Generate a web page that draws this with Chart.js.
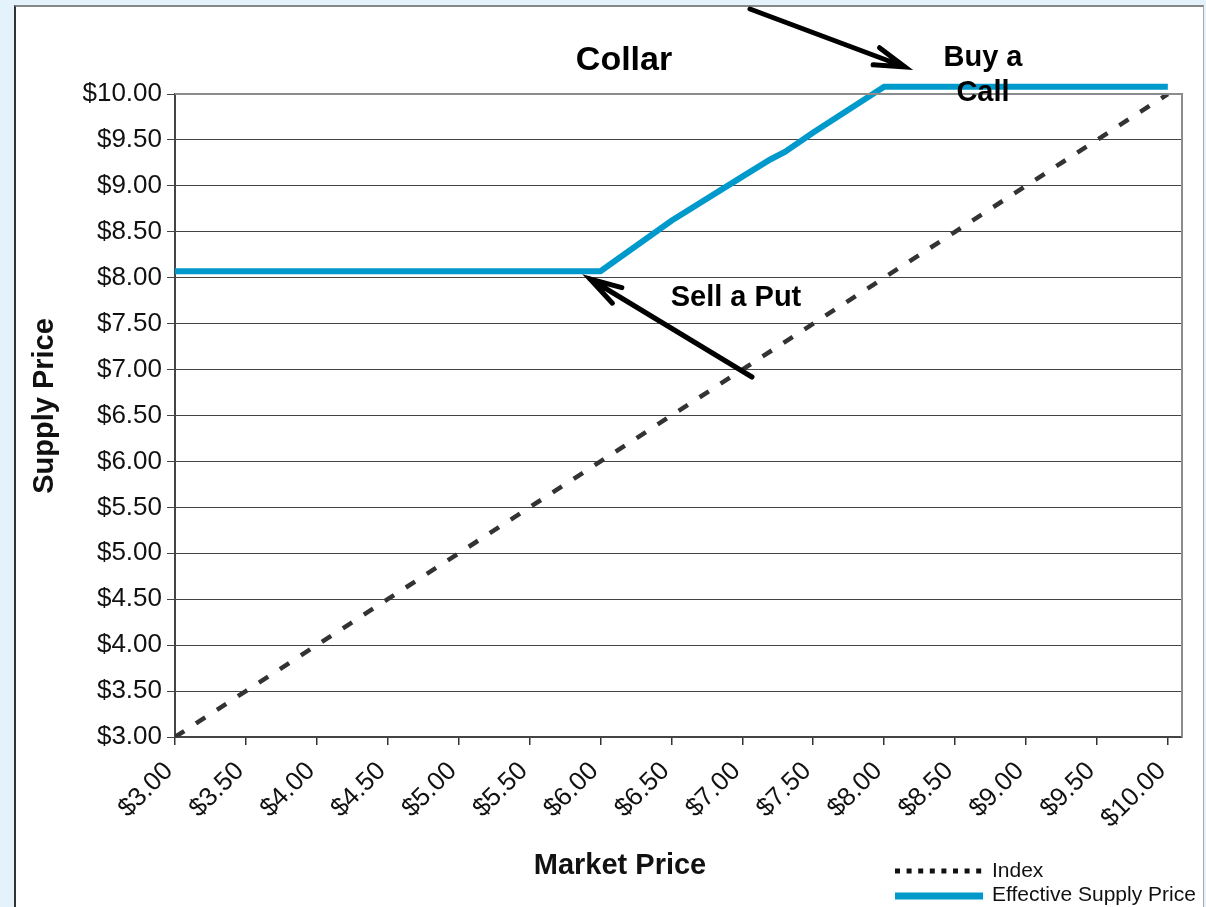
<!DOCTYPE html>
<html>
<head>
<meta charset="utf-8">
<title>Collar</title>
<script src="https://cdn.jsdelivr.net/npm/chart.js@4.4.1/dist/chart.umd.min.js"></script>
<style>
    html, body { margin: 0; padding: 0; }
    body { background: #e4f2fb; width: 1206px; height: 907px; overflow: hidden; position: relative; }
    #panel {
        position: absolute; left: 14px; top: 5px; width: 1187px; height: 902px;
        background: #fff; border-left: 2px solid #333; border-top: 2px solid #888; border-right: 1px solid #aaa;
    }
    #collarChart { position: absolute; left: 0; top: 0; }
</style>
</head>
<body>
<div id="panel"></div>
<canvas id="collarChart" width="1206" height="907"></canvas>
<script>
// market price categories along the bottom axis
const marketPrices = [3.00, 3.50, 4.00, 4.50, 5.00, 5.50, 6.00, 6.50, 7.00, 7.50, 8.00, 8.50, 9.00, 9.50, 10.00];
const marketLabels = ['$3.00', '$3.50', '$4.00', '$4.50', '$5.00', '$5.50', '$6.00', '$6.50', '$7.00', '$7.50', '$8.00', '$8.50', '$9.00', '$9.50', '$10.00'];

// supply price ticks on the left axis
const supplyTicks = [3.00, 3.50, 4.00, 4.50, 5.00, 5.50, 6.00, 6.50, 7.00, 7.50, 8.00, 8.50, 9.00, 9.50, 10.00];
const supplyLabels = ['$3.00', '$3.50', '$4.00', '$4.50', '$5.00', '$5.50', '$6.00', '$6.50', '$7.00', '$7.50', '$8.00', '$8.50', '$9.00', '$9.50', '$10.00'];

// index follows the market one to one
const indexPrice = [3.00, 3.50, 4.00, 4.50, 5.00, 5.50, 6.00, 6.50, 7.00, 7.50, 8.00, 8.50, 9.00, 9.50, 10.00];

// effective supply price: floor from the put, cap from the call
const effectiveMarket = [3.00, 6.00, 6.50, 7.00, 7.20, 7.30, 7.50, 8.00, 10.00];
const effectivePrice = [8.07, 8.07, 8.62, 9.10, 9.29, 9.37, 9.58, 10.08, 10.08];

const FONT = "'Liberation Sans', Arial, sans-serif";
const BLUE = '#0099cc';

function toPoints(xs, ys) {
    return xs.map((x, i) => ({ x: x, y: ys[i] }));
}

function drawArrow(ctx, tail, tip, len, spread) {
    const ang = Math.atan2(tail[1] - tip[1], tail[0] - tip[0]);
    ctx.beginPath();
    ctx.moveTo(tail[0], tail[1]);
    ctx.lineTo(tip[0], tip[1]);
    ctx.moveTo(tip[0] + len * Math.cos(ang - spread), tip[1] + len * Math.sin(ang - spread));
    ctx.lineTo(tip[0], tip[1]);
    ctx.lineTo(tip[0] + len * Math.cos(ang + spread), tip[1] + len * Math.sin(ang + spread));
    ctx.stroke();
}

// plot frame, titles, notes, arrows and the legend box
const collarDecor = {
    id: 'collarDecor',
    afterDatasetsDraw(chart) {
        const { ctx, chartArea: a } = chart;
        ctx.save();
        ctx.strokeStyle = '#8c8c8c';
        ctx.lineWidth = 2;
        ctx.beginPath();
        ctx.moveTo(a.left, a.top);
        ctx.lineTo(a.right, a.top);
        ctx.lineTo(a.right, a.bottom);
        ctx.stroke();

        ctx.fillStyle = '#000';
        ctx.textAlign = 'center';
        ctx.textBaseline = 'middle';
        ctx.font = 'bold 34px ' + FONT;
        ctx.fillText('Collar', 624, 61);
        ctx.font = 'bold 29px ' + FONT;
        ctx.fillText('Buy a', 983, 58);
        ctx.fillText('Call', 983, 93);
        ctx.fillText('Sell a Put', 736, 298);

        // axis titles
        ctx.fillStyle = '#111';
        ctx.fillText('Market Price', 620, 866);
        ctx.save();
        ctx.translate(45, 406);
        ctx.rotate(-Math.PI / 2);
        ctx.fillText('Supply Price', 0, 0);
        ctx.restore();

        ctx.strokeStyle = '#000';
        ctx.lineWidth = 5;
        ctx.lineCap = 'round';
        ctx.lineJoin = 'miter';
        drawArrow(ctx, [750, 9], [905, 67], 32, 0.29);
        drawArrow(ctx, [752, 377], [590, 279], 33, 0.28);

        // legend
        ctx.lineCap = 'butt';
        ctx.strokeStyle = '#111';
        ctx.lineWidth = 5;
        ctx.setLineDash([5, 6.6]);
        ctx.beginPath();
        ctx.moveTo(895, 871);
        ctx.lineTo(984, 871);
        ctx.stroke();
        ctx.setLineDash([]);
        ctx.strokeStyle = BLUE;
        ctx.lineWidth = 7;
        ctx.beginPath();
        ctx.moveTo(895, 896);
        ctx.lineTo(983, 896);
        ctx.stroke();
        ctx.fillStyle = '#111';
        ctx.textAlign = 'left';
        ctx.font = '21px ' + FONT;
        ctx.fillText('Index', 992, 871);
        ctx.fillText('Effective Supply Price', 992, 895);
        ctx.restore();
    }
};

const ctx = document.getElementById('collarChart').getContext('2d');

new Chart(ctx, {
    type: 'line',
    data: {
        datasets: [
            {
                label: 'Index',
                data: toPoints(marketPrices, indexPrice),
                borderColor: '#333',
                borderWidth: 4.5,
                borderDash: [11, 14],
                pointRadius: 0,
                tension: 0
            },
            {
                label: 'Effective Supply Price',
                data: toPoints(effectiveMarket, effectivePrice),
                borderColor: BLUE,
                borderWidth: 6,
                borderJoinStyle: 'miter',
                pointRadius: 0,
                tension: 0,
                clip: false
            }
        ]
    },
    options: {
        responsive: false,
        animation: false,
        devicePixelRatio: 1,
        layout: { padding: { left: 28, right: 24, top: 94, bottom: 24 } },
        plugins: {
            legend: { display: false },
            tooltip: { enabled: false }
        },
        scales: {
            x: {
                type: 'linear',
                min: 3,
                max: 10.1,
                afterBuildTicks: (s) => { s.ticks = marketPrices.map(v => ({ value: v })); },
                afterFit: (s) => { s.height = 146; },
                ticks: {
                    autoSkip: false,
                    minRotation: 45,
                    maxRotation: 45,
                    padding: 11,
                    labelOffset: -6,
                    color: '#111',
                    font: { family: FONT, size: 26 },
                    callback: (v, i) => marketLabels[i]
                },
                grid: { drawOnChartArea: false, drawTicks: true, tickLength: 8, color: '#333', lineWidth: 1.5 },
                border: { color: '#444', width: 2 }
            },
            y: {
                min: 3,
                max: 10,
                afterBuildTicks: (s) => { s.ticks = supplyTicks.map(v => ({ value: v })); },
                afterFit: (s) => { s.width = 147; },
                ticks: {
                    padding: 5,
                    color: '#111',
                    font: { family: FONT, size: 26 },
                    callback: (v, i) => supplyLabels[i]
                },
                grid: { color: '#444', lineWidth: 1, tickLength: 8 },
                border: { color: '#444', width: 2 }
            }
        }
    },
    plugins: [collarDecor]
});
</script>
</body>
</html>
